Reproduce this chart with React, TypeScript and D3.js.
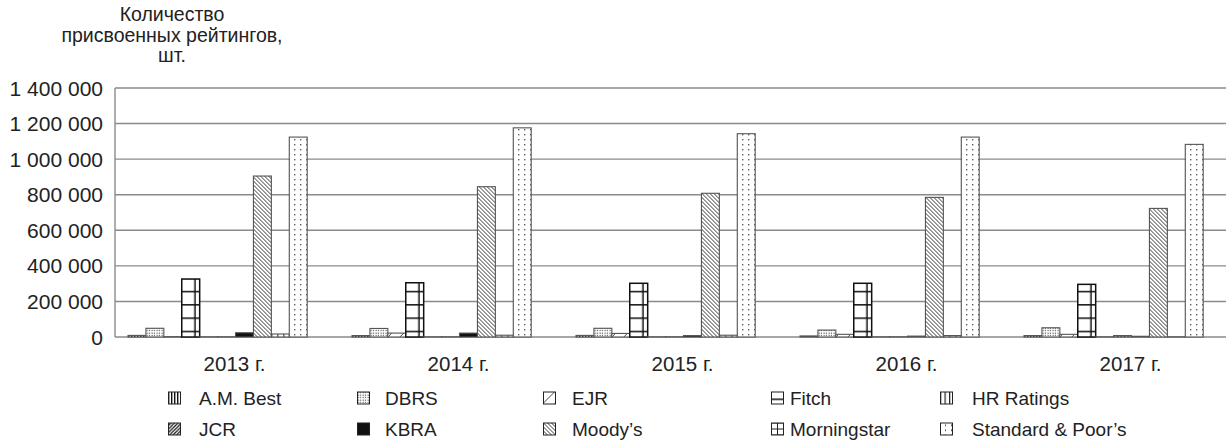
import { useEffect, useRef } from "react";
import * as d3 from "d3";

const years = ["2013 г.", "2014 г.", "2015 г.", "2016 г.", "2017 г."];

const agencies = [
  "A.M. Best",
  "DBRS",
  "EJR",
  "Fitch",
  "HR Ratings",
  "JCR",
  "KBRA",
  "Moody’s",
  "Morningstar",
  "Standard & Poor’s",
];

// values per agency, one per year (2013..2017)
const amBest = [9000, 8000, 9000, 6000, 8000];
const dbrs = [49000, 48000, 49000, 39000, 52000];
const ejr = [2000, 22000, 20000, 15000, 15000];
const fitch = [326000, 305000, 302000, 302000, 296000];
const hrRatings = [1000, 1000, 1000, 1000, 1000];
const jcr = [1000, 1000, 1000, 1000, 8000];
const kbra = [24000, 22000, 8000, 5000, 4000];
const moodys = [905000, 845000, 808000, 785000, 723000];
const morningstar = [17000, 10000, 10000, 8000, 1000];
const sp = [1124000, 1176000, 1143000, 1124000, 1083000];

const seriesValues = [amBest, dbrs, ejr, fitch, hrRatings, jcr, kbra, moodys, morningstar, sp];

const yTicks = [0, 200000, 400000, 600000, 800000, 1000000, 1200000, 1400000];

const titleLines = ["Количество", "присвоенных рейтингов,", "шт."];

const patternIds = ["amb", "dbrs", "ejr", "fitch", "hr", "jcr", "kbra", "mdy", "mstar", "sp"];

const W = 1226;
const H = 442;
const FONT = "'Liberation Sans', Arial, sans-serif";

const fmt = (v: number) => d3.format(",")(v).replace(/,/g, " ");

const addPatterns = (defs: d3.Selection<SVGDefsElement, unknown, null, undefined>) => {
  const mk = (id: string, w: number, h: number) => {
    const p = defs
      .append("pattern")
      .attr("id", id)
      .attr("patternUnits", "userSpaceOnUse")
      .attr("width", w)
      .attr("height", h);
    p.append("rect").attr("width", w).attr("height", h).attr("fill", "#fff");
    return p;
  };
  // A.M. Best: dense vertical lines
  let p = mk("amb", 3, 4);
  p.append("rect").attr("x", 0).attr("width", 1.4).attr("height", 4).attr("fill", "#111");
  // DBRS: fine dots
  p = mk("dbrs", 2.5, 2.5);
  p.append("rect").attr("x", 0.6).attr("y", 0.6).attr("width", 1.1).attr("height", 1.1).attr("fill", "#333");
  // EJR: sparse forward diagonal
  p = mk("ejr", 12, 12);
  p.append("path").attr("d", "M0,12L12,0M-3,3L3,-3M9,15L15,9").attr("stroke", "#333").attr("stroke-width", 0.9);
  // Fitch: big grid cells
  p = mk("fitch", 18, 13.3);
  p.attr("y", -6.3);
  p.append("rect").attr("x", 0).attr("y", 0).attr("width", 18).attr("height", 1.5).attr("fill", "#111");
  p.append("rect").attr("x", 12.5).attr("y", 0).attr("width", 1.5).attr("height", 13.3).attr("fill", "#111");
  // HR Ratings: vertical lines
  p = mk("hr", 4.5, 4);
  p.append("rect").attr("x", 0).attr("width", 1.2).attr("height", 4).attr("fill", "#222");
  // JCR: thick forward diagonal
  p = mk("jcr", 3.5, 3.5);
  p.append("path").attr("d", "M0,3.5L3.5,0M-1,1L1,-1M2.5,4.5L4.5,2.5").attr("stroke", "#111").attr("stroke-width", 1.2);
  // KBRA: solid
  p = mk("kbra", 4, 4);
  p.append("rect").attr("width", 4).attr("height", 4).attr("fill", "#111");
  // Moody's: backward diagonal
  p = mk("mdy", 4, 4);
  p.append("path").attr("d", "M0,0L4,4M-1,3L1,5M3,-1L5,1").attr("stroke", "#222").attr("stroke-width", 0.9);
  // Morningstar: small grid
  p = mk("mstar", 6, 6);
  p.append("path").attr("d", "M0,0.5H6M0.5,0V6").attr("stroke", "#222").attr("stroke-width", 1);
  // S&P: sparse dots
  p = mk("sp", 6, 5);
  p.append("rect").attr("x", 5).attr("y", 2).attr("width", 1.4).attr("height", 1.4).attr("fill", "#222");
};

const drawChart = (svgEl: SVGSVGElement) => {
  const svg = d3.select(svgEl);
  svg.selectAll("*").remove();

  const defs = svg.append("defs");
  addPatterns(defs);

  const left = 115;
  const y = d3.scaleLinear().domain([0, 1400000]).range([337, 88]);
  const x0 = d3.scaleBand<string>().domain(years).range([105.6, 1225.6]).paddingInner(0.2).paddingOuter(0.1);
  const x1 = d3.scaleBand<string>().domain(agencies).range([0, x0.bandwidth()]);

  // gridlines
  svg
    .append("g")
    .selectAll("line")
    .data(yTicks)
    .enter()
    .append("line")
    .attr("x1", left)
    .attr("x2", W)
    .attr("y1", (d) => y(d))
    .attr("y2", (d) => y(d))
    .attr("stroke", "#8a8a8a")
    .attr("stroke-width", 1.4);

  svg
    .append("line")
    .attr("x1", left)
    .attr("x2", left)
    .attr("y1", y(1400000))
    .attr("y2", y(0))
    .attr("stroke", "#8a8a8a")
    .attr("stroke-width", 1.4);

  // y tick labels
  svg
    .append("g")
    .selectAll("text")
    .data(yTicks)
    .enter()
    .append("text")
    .attr("x", 103)
    .attr("y", (d) => y(d))
    .attr("dy", "0.36em")
    .attr("text-anchor", "end")
    .attr("font-family", FONT)
    .attr("font-size", 21)
    .attr("fill", "#222")
    .text((d) => fmt(d));

  // title
  svg
    .append("text")
    .attr("font-family", FONT)
    .attr("font-size", 19.5)
    .attr("fill", "#222")
    .attr("text-anchor", "middle")
    .selectAll("tspan")
    .data(titleLines)
    .enter()
    .append("tspan")
    .attr("x", 172)
    .attr("y", (_d, i) => 21 + i * 20.5)
    .text((d) => d);

  // bars
  const groups = svg
    .append("g")
    .selectAll("g")
    .data(years)
    .enter()
    .append("g")
    .attr("transform", (d) => `translate(${x0(d)},0)`);

  groups.each(function (_year, yi) {
    const g = d3.select(this);
    agencies.forEach((a, ai) => {
      const v = seriesValues[ai][yi];
      const h = y(0) - y(v);
      const bw = x1.bandwidth();
      const bar = g.append("g").attr("transform", `translate(${x1(a)},${y(0)})`);
      bar
        .append("rect")
        .attr("x", 0)
        .attr("y", -h)
        .attr("width", bw)
        .attr("height", h)
        .attr("fill", `url(#${patternIds[ai]})`)
        .attr("stroke", ai === 3 ? "#111" : "#555")
        .attr("stroke-width", ai === 3 ? 1.5 : 1.1);
    });
  });

  // x labels
  svg
    .append("g")
    .selectAll("text")
    .data(years)
    .enter()
    .append("text")
    .attr("x", (d) => (x0(d) ?? 0) + x0.bandwidth() / 2 + 17)
    .attr("y", 371)
    .attr("text-anchor", "middle")
    .attr("font-family", FONT)
    .attr("font-size", 20.5)
    .attr("fill", "#222")
    .text((d) => d);

  // legend
  const colIcon = [168, 357, 543, 771, 940];
  const colText = [199, 385, 572, 790, 972];
  const legend = svg
    .append("g")
    .selectAll("g")
    .data(agencies)
    .enter()
    .append("g")
    .attr("transform", (_d, i) => `translate(${colIcon[i % 5]},${(i < 5 ? 398 : 429) - 6.5})`);

  legend
    .append("rect")
    .attr("x", 0.5)
    .attr("y", 0.5)
    .attr("width", 12)
    .attr("height", 12)
    .attr("fill", (_d, i) => `url(#${patternIds[i]})`)
    .attr("stroke", "#222")
    .attr("stroke-width", 1);

  legend
    .append("text")
    .attr("x", (_d, i) => colText[i % 5] - colIcon[i % 5])
    .attr("y", 6.5)
    .attr("dy", "0.36em")
    .attr("font-family", FONT)
    .attr("font-size", 19)
    .attr("fill", "#222")
    .text((d) => d);
};

const App = () => {
  const svgRef = useRef<SVGSVGElement>(null);

  useEffect(() => {
    if (svgRef.current) drawChart(svgRef.current);
  }, []);

  return (
    <svg
      ref={svgRef}
      width={W}
      height={H}
      style={{ position: "absolute", left: 0, top: 0, background: "#fff" }}
    />
  );
};

export default App;
